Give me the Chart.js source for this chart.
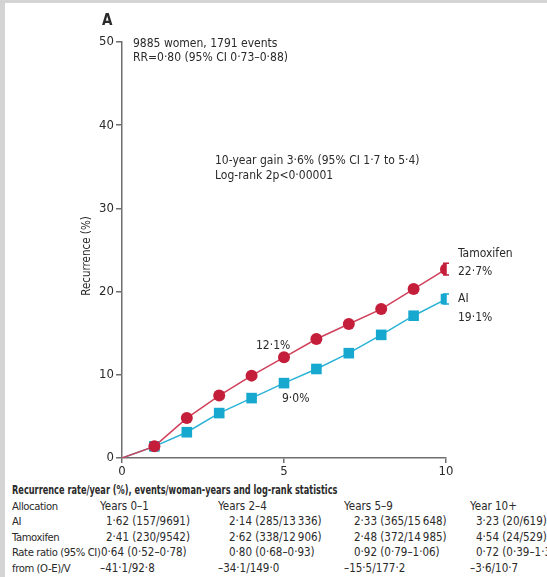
<!DOCTYPE html>
<html>
<head>
<meta charset="utf-8">
<script src="https://cdn.jsdelivr.net/npm/chart.js@4/dist/chart.umd.min.js"></script>
<style>
  html, body { margin: 0; padding: 0; background: #fff; }
  body { width: 547px; height: 577px; position: relative; overflow: hidden;
         font-family: "DejaVu Sans Condensed", sans-serif; color: #2a2a2a; }
  .frame-top { position: absolute; left: 0; top: 0; width: 547px; height: 3px; background: #d4d4d4; }
  .frame-left { position: absolute; left: 0; top: 0; width: 5px; height: 577px; background: #d4d4d4; }
  #wrap { position: absolute; left: 0; top: 0; width: 547px; height: 480px; }
  #stats { position: absolute; left: 12px; top: 483px; font-size: 11.5px; line-height: 15.5px; }
  #stats .row { position: relative; height: 15.5px; white-space: nowrap; }
  #stats .row span { position: absolute; top: 0; }
  #stats .row span.lbl { font-size: 11.2px; letter-spacing: -0.4px; }
  #stats .row.title span.lbl { font-weight: bold; font-size: 12px; letter-spacing: 0; transform: scaleX(0.76); transform-origin: left center; }
</style>
</head>
<body>
<div class="frame-top"></div>
<div class="frame-left"></div>
<div id="wrap"><canvas id="chart" width="547" height="480"></canvas></div>
<div id="stats"></div>
<script>
// cumulative recurrence (%) by year since randomisation
const years = [0, 1, 2, 3, 4, 5, 6, 7, 8, 9, 10];
const tamoxifen = [0, 1.4, 4.8, 7.5, 9.9, 12.1, 14.3, 16.1, 17.9, 20.3, 22.7];
const aromataseInhibitor = [0, 1.4, 3.1, 5.4, 7.2, 9.0, 10.7, 12.6, 14.8, 17.1, 19.1];
// error bars shown at 10 years
const tamoxifenCI10 = [22.0, 23.4];
const aiCI10 = [18.5, 19.7];

const yTicks = [0, 10, 20, 30, 40, 50];
const xTicks = [0, 5, 10];

// statistics table under the plot
const tableTitle = "Recurrence rate/year (%), events/woman-years and log-rank statistics";
const periods = ["Years 0–1", "Years 2–4", "Years 5–9", "Year 10+"];
const rowLabels = ["AI", "Tamoxifen", "Rate ratio (95% CI)", "from (O-E)/V"];
const aiRates = ["1·62 (157/9691)", "2·14 (285/13\u2009336)", "2·33 (365/15\u2009648)", "3·23 (20/619)"];
const tamRates = ["2·41 (230/9542)", "2·62 (338/12\u2009906)", "2·48 (372/14\u2009985)", "4·54 (24/529)"];
const rateRatios = ["0·64 (0·52–0·78)", "0·80 (0·68–0·93)", "0·92 (0·79–1·06)", "0·72 (0·39–1·30)"];
const oeV = ["–41·1/92·8", "–34·1/149·0", "–15·5/177·2", "–3·6/10·7"];

const RED = "#c41e3a";
const CYAN = "#16a8cf";
const AXIS = "#6f6f6f";
const TEXT = "#2a2a2a";
const FONT = '"DejaVu Sans Condensed", sans-serif';

function toPoints(vals) {
    return vals.map((v, i) => ({ x: years[i], y: v }));
}

function pct(v) {
    return v.toFixed(1).replace(".", "·") + "%";
}

// radius 0 at origin so the curves start without a marker
const markerRadius = (r) => years.map((y) => (y === 0 ? 0 : r));

const annotations = {
    id: "annotations",
    afterDatasetsDraw(chart) {
        const ctx = chart.ctx;
        const xs = chart.scales.x;
        const ys = chart.scales.y;
        const area = chart.chartArea;
        ctx.save();

        // 10-year error bars
        const bars = [[tamoxifenCI10, RED], [aiCI10, CYAN]];
        bars.forEach(([ci, col]) => {
            const px = xs.getPixelForValue(10);
            const lo = ys.getPixelForValue(ci[0]);
            const hi = ys.getPixelForValue(ci[1]);
            ctx.strokeStyle = col;
            ctx.lineWidth = 1.5;
            ctx.beginPath();
            ctx.moveTo(px, lo); ctx.lineTo(px, hi);
            ctx.moveTo(px - 3, lo); ctx.lineTo(px + 3, lo);
            ctx.moveTo(px - 3, hi); ctx.lineTo(px + 3, hi);
            ctx.stroke();
        });

        ctx.fillStyle = TEXT;
        ctx.textBaseline = "alphabetic";
        ctx.textAlign = "left";

        ctx.font = "bold 15px " + FONT;
        ctx.fillText("A", area.left - 20, 25);

        ctx.font = "12px " + FONT;
        ctx.fillText("9885 women, 1791 events", area.left + 11, 47);
        ctx.fillText("RR=0·80 (95% CI 0·73–0·88)", area.left + 11, 61);
        ctx.fillText("10-year gain 3·6% (95% CI 1·7 to 5·4)", area.left + 93, 164);
        ctx.fillText("Log-rank 2p<0·00001", area.left + 93, 179);

        // end-of-curve labels
        const endX = xs.getPixelForValue(10) + 12;
        const tamEnd = ys.getPixelForValue(tamoxifen[10]);
        const aiEnd = ys.getPixelForValue(aromataseInhibitor[10]);
        ctx.fillText("Tamoxifen", endX, tamEnd - 12);
        ctx.fillText(pct(tamoxifen[10]), endX, tamEnd + 6);
        ctx.fillText("AI", endX, aiEnd + 3);
        ctx.fillText(pct(aromataseInhibitor[10]), endX, aiEnd + 22);

        // 5-year values
        const x5 = xs.getPixelForValue(5);
        ctx.fillText(pct(tamoxifen[5]), x5 - 28, ys.getPixelForValue(tamoxifen[5]) - 8);
        ctx.fillText(pct(aromataseInhibitor[5]), x5 - 2, ys.getPixelForValue(aromataseInhibitor[5]) + 19);

        // y axis title
        ctx.font = "11.5px " + FONT;
        ctx.translate(area.left - 35, 256);
        ctx.rotate(-Math.PI / 2);
        ctx.textAlign = "center";
        ctx.textBaseline = "middle";
        ctx.fillText("Recurrence (%)", 0, 0);

        ctx.restore();
    }
};

const ctx = document.getElementById("chart").getContext("2d");
new Chart(ctx, {
    type: "line",
    data: {
        datasets: [
            {
                label: "Tamoxifen",
                data: toPoints(tamoxifen),
                borderColor: "#d0405a",
                borderWidth: 1.5,
                backgroundColor: RED,
                pointBackgroundColor: RED,
                pointBorderWidth: 0,
                pointStyle: "circle",
                pointRadius: markerRadius(6),
                order: 0
            },
            {
                label: "AI",
                data: toPoints(aromataseInhibitor),
                borderColor: "#2ab3d6",
                borderWidth: 1.5,
                backgroundColor: CYAN,
                pointBackgroundColor: CYAN,
                pointBorderWidth: 0,
                pointStyle: "rect",
                pointRadius: markerRadius(7.5),
                order: 1
            }
        ]
    },
    options: {
        responsive: false,
        animation: false,
        layout: { padding: { top: 42, right: 101, left: 0, bottom: 0 } },
        plugins: {
            legend: { display: false },
            tooltip: { enabled: false }
        },
        scales: {
            x: {
                type: "linear",
                min: 0,
                max: 10,
                afterBuildTicks: (scale) => { scale.ticks = xTicks.map((v) => ({ value: v })); },
                afterFit: (scale) => { scale.height = 22; },
                border: { color: AXIS, width: 1.5 },
                grid: { drawOnChartArea: false, color: AXIS, tickLength: 5, lineWidth: 1.5 },
                ticks: { color: TEXT, font: { family: FONT, size: 13 }, padding: 1, maxRotation: 0 }
            },
            y: {
                min: 0,
                max: 50,
                afterBuildTicks: (scale) => { scale.ticks = yTicks.map((v) => ({ value: v })); },
                afterFit: (scale) => { scale.width = 122; },
                border: { color: AXIS, width: 1.5 },
                grid: { drawOnChartArea: false, color: AXIS, tickLength: 6, lineWidth: 1.5 },
                ticks: { color: TEXT, font: { family: FONT, size: 13 }, padding: 2 }
            }
        }
    },
    plugins: [annotations]
});

// build the statistics table
const stats = document.getElementById("stats");
const colX = [88, 206, 332, 458];
const valueIndent = [6, 11, 10, 6];
const ratioIndent = [1, 11, 10, 6];

function addRow(label, cells, indent, cls) {
    const row = document.createElement("div");
    row.className = "row" + (cls ? " " + cls : "");
    const l = document.createElement("span");
    l.className = "lbl";
    l.style.left = "0px";
    l.textContent = label;
    row.appendChild(l);
    cells.forEach((c, i) => {
        const s = document.createElement("span");
        s.style.left = (colX[i] + (indent ? indent[i] : 0)) + "px";
        s.textContent = c;
        row.appendChild(s);
    });
    stats.appendChild(row);
}

addRow(tableTitle, [], null, "title");
addRow("Allocation", periods, null);
addRow(rowLabels[0], aiRates, valueIndent);
addRow(rowLabels[1], tamRates, valueIndent);
addRow(rowLabels[2], rateRatios, ratioIndent);
addRow(rowLabels[3], oeV, null);
</script>
</body>
</html>
